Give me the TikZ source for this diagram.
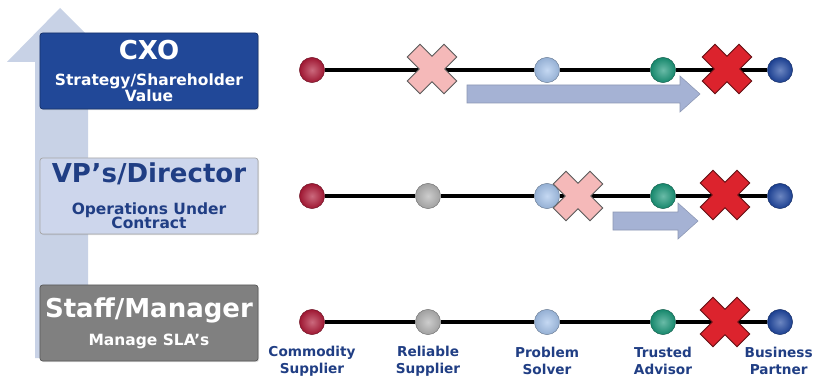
\documentclass[tikz,border=0pt]{standalone}
\usepackage{fontspec}
\setmainfont{DejaVu Sans}
\usetikzlibrary{shadows}

% Couleurs / Colours
\definecolor{bleucxo}{RGB}{33,72,152}
\definecolor{bleuvp}{RGB}{205,214,236}
\definecolor{grisstaff}{RGB}{128,128,128}
\definecolor{bleutexte}{RGB}{32,62,132}
\definecolor{grisfleche}{RGB}{200,210,230}
\definecolor{bleufleche}{RGB}{165,178,212}
\definecolor{rouge}{RGB}{175,25,55}
\definecolor{gris}{RGB}{178,178,178}
\definecolor{bleuclair}{RGB}{165,195,235}
\definecolor{vert}{RGB}{25,150,120}
\definecolor{bleu}{RGB}{30,70,160}
\definecolor{rose}{RGB}{245,185,185}
\definecolor{rougex}{RGB}{220,35,45}

\newcommand{\titrefont}{\fontsize{18.5}{20}\selectfont}

% Croix (centre x, centre y, style) / Cross (centre x, centre y, style)
\newcommand{\croix}[3]{%
  \filldraw[#3, shift={(#1,#2)}, rotate=45] (9,26) -- (9,9) -- (26,9) -- (26,-9) -- (9,-9) -- (9,-26)
    -- (-9,-26) -- (-9,-9) -- (-26,-9) -- (-26,9) -- (-9,9) -- (-9,26) -- cycle;}

% Flèche bleue (debut x, fin x, centre y) / Blue block arrow (start x, end x, centre y)
\newcommand{\flechebleue}[3]{%
  \filldraw[draw=bleufleche!85!black, line width=0.4pt, fill=bleufleche] (#1,#3-9) -- (#2-20,#3-9) -- (#2-20,#3-18)
    -- (#2,#3) -- (#2-20,#3+18) -- (#2-20,#3+9) -- (#1,#3+9) -- cycle;}

\tikzset{
  boite/.style={rectangle, rounded corners=2pt, fill=#1, draw=#1!70!black, line width=0.5pt,
    minimum width=5.45cm, minimum height=1.9cm, inner sep=0pt, align=center,
    font=\bfseries\fontsize{11}{10.5}\selectfont,
    drop shadow={opacity=0.25, shadow xshift=0.8pt, shadow yshift=-0.8pt}},
  point/.style={circle, minimum size=0.63cm, inner sep=0pt, draw=#1!60!black, line width=0.3pt,
    inner color=#1!65!white, outer color=#1!90!black},
  ligne/.style={black, line width=2.3pt},
  etiquette/.style={align=center, text=bleutexte, inner sep=0pt, font=\bfseries\fontsize{9.7}{12}\selectfont},
  croixrose/.style={fill=rose, draw=black!65, line width=0.6pt},
  croixrouge/.style={fill=rougex, draw=rougex!45!black, line width=0.6pt}
}

\begin{document}
\begin{tikzpicture}[x=0.025cm, y=-0.025cm]

% Zone de dessin (815 x 380 px) / Drawing area
\useasboundingbox (0,0) rectangle (815,380);
\fill[white] (0,0) rectangle (815,380);

% Grande flèche de fond / Large background arrow
\fill[grisfleche] (35,358) -- (35,62) -- (7,62) -- (60,8) -- (114,62) -- (88,62) -- (88,358) -- cycle;

% Boîtes des niveaux / Level boxes
\node[boite=bleucxo, text=white] (cxo) at (149,71)
  {{\titrefont CXO}\\[8pt] Strategy/Shareholder\\ Value};
\node[boite=bleuvp, text=bleutexte, draw=black!35] (vp) at (149,196)
  {{\titrefont VP’s/Director}\\[12pt] Operations Under\\ Contract};
\node[boite=grisstaff, text=white] (staff) at (149,323)
  {{\titrefont Staff/Manager}\\[7pt] Manage SLA’s};

% Rangée 1 / Row 1
\node[point=rouge] (c1) at (312,70) {};
\node[point=bleuclair] (p1) at (547,70) {};
\node[point=vert] (t1) at (663,70) {};
\node[point=bleu] (b1) at (780,70) {};
\draw[ligne] (c1) -- (p1) -- (t1) -- (b1);
\croix{432}{69}{croixrose}
\croix{727}{69}{croixrouge}
\flechebleue{467}{700}{94}

% Rangée 2 / Row 2
\node[point=rouge] (c2) at (312,196) {};
\node[point=gris] (r2) at (428,196) {};
\node[point=bleuclair] (p2) at (547,196) {};
\node[point=vert] (t2) at (663,196) {};
\node[point=bleu] (b2) at (780,196) {};
\draw[ligne] (c2) -- (r2) -- (p2) -- (t2) -- (b2);
\croix{578}{196}{croixrose}
\croix{725}{195}{croixrouge}
\flechebleue{613}{698}{221}

% Rangée 3 / Row 3
\node[point=rouge] (c3) at (312,322) {};
\node[point=gris] (r3) at (428,322) {};
\node[point=bleuclair] (p3) at (547,322) {};
\node[point=vert] (t3) at (663,322) {};
\node[point=bleu] (b3) at (780,322) {};
\draw[ligne] (c3) -- (r3) -- (p3) -- (t3) -- (b3);
\croix{725}{322}{croixrouge}

% Étiquettes / Labels
\node[etiquette] (lc) at (312,361) {Commodity\\Supplier};
\node[etiquette] (lr) at (428,361) {Reliable\\Supplier};
\node[etiquette] (lp) at (547,361) {Problem\\Solver};
\node[etiquette] (lt) at (663,361) {Trusted\\Advisor};
\node[etiquette, anchor=east] (lb) at (813,361) {Business\\Partner};

\end{tikzpicture}
\end{document}
